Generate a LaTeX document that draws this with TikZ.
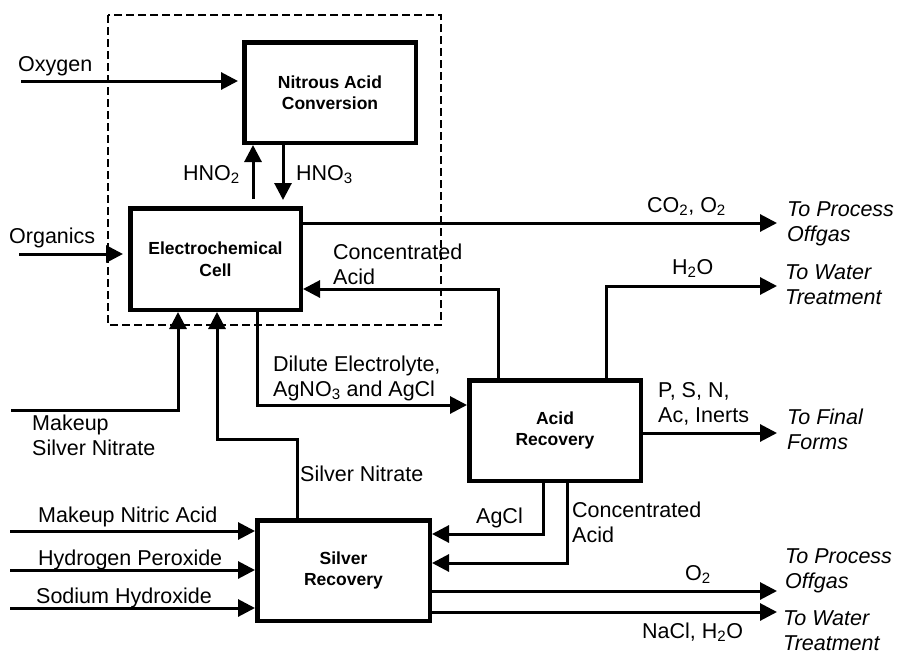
\documentclass[tikz,border=0pt]{standalone}
\usepackage{fontspec}
\setmainfont{Liberation Sans}
\usetikzlibrary{arrows.meta}
\begin{document}
\begin{tikzpicture}[x=1pt,y=-1pt,
  flow/.style={line width=3pt,-{Triangle[length=17pt,width=17pt]}},
  unit/.style={draw,line width=4.5pt,inner sep=0pt,align=center,
    font=\fontsize{17.5}{21.5}\selectfont\bfseries},
  lbl/.style={inner sep=0pt,anchor=base west,align=left,
    font=\fontsize{21.5}{24.5}\selectfont},
  dest/.style={lbl,font=\fontsize{21.5}{24.5}\selectfont\itshape},
]
\useasboundingbox (0,0) rectangle (897,653);

% process units
\node[unit,minimum width=171.5pt,minimum height=100.5pt] (nac) at (330,92.5) {Nitrous Acid\\Conversion};
\node[unit,minimum width=170.5pt,minimum height=101.5pt] (ec) at (215.5,259) {Electrochemical\\Cell};
\node[unit,minimum width=171.5pt,minimum height=100.5pt] (ar) at (555,430.5) {Acid\\Recovery};
\node[unit,minimum width=172.5pt,minimum height=100.5pt] (sr) at (343.5,570.5) {Silver\\Recovery};

% boundary of the electrochemical section
\draw[dashed,line width=1.3pt,dash pattern=on 8pt off 4pt] (108,15) rectangle (441,325);

% route points
\coordinate (oxyIn) at (21,81);
\coordinate (orgIn) at (19,254);
\coordinate (hnoUp) at (253,0);
\coordinate (hnoDn) at (283,0);
\coordinate (offgasA) at (777,223);
\coordinate (caBend) at (498,289);
\coordinate (h2oX) at (606,0);
\coordinate (waterA) at (777,286);
\coordinate (finalF) at (777,433);
\coordinate (dilBend) at (257,405);
\coordinate (msnIn) at (11,410);
\coordinate (msnBend) at (178,410);
\coordinate (snA) at (297,439);
\coordinate (snB) at (217,439);
\coordinate (mnaIn) at (10,531);
\coordinate (hpIn) at (10,570);
\coordinate (shIn) at (10,608);
\coordinate (agclBend) at (543,534);
\coordinate (caBend2) at (567,563);
\coordinate (offgasB) at (777,591);
\coordinate (waterB) at (777,612);

% streams
\draw[flow,shorten >=4pt] (oxyIn) -- (nac.west |- oxyIn);
\draw[flow,shorten >=5pt] (orgIn) -- (ec.west |- orgIn);
\draw[flow,shorten <=7pt] (ec.north -| hnoUp) -- (nac.south -| hnoUp);
\draw[flow,shorten >=6pt] (nac.south -| hnoDn) -- (ec.north -| hnoDn);
\draw[flow] (ec.east |- offgasA) -- (offgasA);
\draw[flow] (ar.north -| caBend) -- (caBend) -- (ec.east |- caBend);
\draw[flow] (ar.north -| h2oX) |- (waterA);
\draw[flow] (ar.east |- finalF) -- (finalF);
\draw[flow] (ec.south -| dilBend) -- (dilBend) -- (ar.west |- dilBend);
\draw[flow] (msnIn) -- (msnBend) -- (ec.south -| msnBend);
\draw[flow] (sr.north -| snA) -- (snA) -- (snB) -- (ec.south -| snB);
\draw[flow] (mnaIn) -- (sr.west |- mnaIn);
\draw[flow] (hpIn) -- (sr.west |- hpIn);
\draw[flow] (shIn) -- (sr.west |- shIn);
\draw[flow] (ar.south -| agclBend) -- (agclBend) -- (sr.east |- agclBend);
\draw[flow] (ar.south -| caBend2) -- (caBend2) -- (sr.east |- caBend2);
\draw[flow] (sr.east |- offgasB) -- (offgasB);
\draw[flow] (sr.east |- waterB) -- (waterB);

% stream labels (two-line labels sit on the baseline of their last line)
\node[lbl] (tOxy) at (18,71) {Oxygen};
\node[lbl] (tOrg) at (9,243) {Organics};
\node[lbl] (tHno2) at (183,180) {HNO\textsubscript{2}};
\node[lbl] (tHno3) at (296,180) {HNO\textsubscript{3}};
\node[lbl] (tCa) at (333,284) {Concentrated\\Acid};
\node[lbl] (tCo2) at (647,212) {CO\textsubscript{2}, O\textsubscript{2}};
\node[lbl] (tH2o) at (672,274) {H\textsubscript{2}O};
\node[lbl] (tPsn) at (658,422) {P, S, N,\\Ac, Inerts};
\node[lbl] (tDil) at (273,396) {Dilute Electrolyte,\\AgNO\textsubscript{3} and AgCl};
\node[lbl] (tMsn) at (32,455) {Makeup\\Silver Nitrate};
\node[lbl] (tSn) at (300,481) {Silver Nitrate};
\node[lbl] (tMna) at (38,522) {Makeup Nitric Acid};
\node[lbl] (tHp) at (38,565) {Hydrogen Peroxide};
\node[lbl] (tSh) at (36,603) {Sodium Hydroxide};
\node[lbl] (tAgcl) at (476,523) {AgCl};
\node[lbl] (tCa2) at (572,542) {Concentrated\\Acid};
\node[lbl] (tO2) at (685,580) {O\textsubscript{2}};
\node[lbl] (tNacl) at (642,638) {NaCl, H\textsubscript{2}O};

% destinations
\node[dest] (dOffA) at (787,241) {To Process\\Offgas};
\node[dest] (dWatA) at (785,304) {To Water\\Treatment};
\node[dest] (dFin) at (787,449) {To Final\\Forms};
\node[dest] (dOffB) at (785,588) {To Process\\Offgas};
\node[dest] (dWatB) at (783,650) {To Water\\Treatment};
\end{tikzpicture}
\end{document}
